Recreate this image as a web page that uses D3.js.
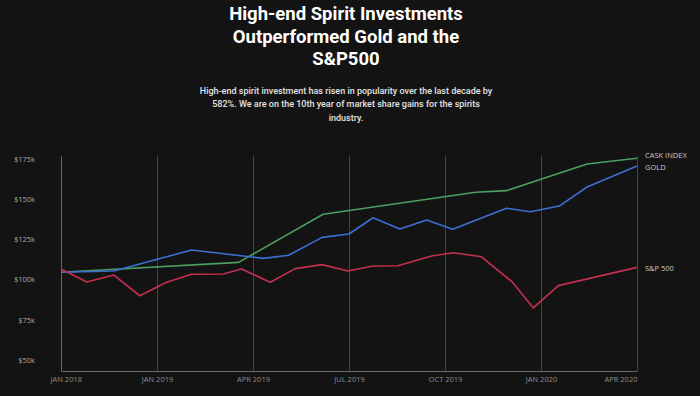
<!DOCTYPE html>
<html>
<head>
<meta charset="utf-8">
<script src="https://cdn.jsdelivr.net/npm/d3@7"></script>
<style>
	html, body { margin: 0; padding: 0; background: #131313; }
	svg { display: block; }
</style>
</head>
<body>
<svg width="700" height="396"></svg>
<script>
// tick positions are evenly spaced periods, not a true time axis
let tick_labels = ["JAN 2018", "JAN 2019", "APR 2019", "JUL 2019", "OCT 2019", "JAN 2020", "APR 2020"];
let y_ticks = [50000, 75000, 100000, 125000, 150000, 175000];

let title_lines = ["High-end Spirit Investments", "Outperformed Gold and the", "S&P500"];
let subtitle_lines = [
	"High-end spirit investment has risen in popularity over the last decade by",
	"582%. We are on the 10th year of market share gains for the spirits",
	"industry."
];

let series_names = ["CASK INDEX", "GOLD", "S&P 500"];
let series_colors = ["#4c9f5f", "#3d6fd3", "#c4304f"];

// [period, value]
let cask_index = [[0, 104500], [1.85, 110700], [2.73, 140700], [4.32, 154400], [4.64, 155400], [5.48, 172000], [6, 175600]];
let gold = [[0, 104500], [0.55, 105300], [1.36, 118400], [2.11, 113200], [2.37, 115100], [2.72, 126300], [3.0, 128400],
	[3.25, 138500], [3.53, 131500], [3.81, 137100], [4.08, 131400], [4.64, 144400], [4.89, 142300], [5.19, 145800],
	[5.48, 157700], [6, 170800]];
let sp500 = [[0, 106600], [0.27, 98500], [0.55, 102800], [0.82, 89900], [1.1, 98300], [1.36, 103300], [1.69, 103500],
	[1.88, 106600], [2.18, 98300], [2.44, 106800], [2.72, 109300], [2.99, 105300], [3.25, 108400], [3.51, 108600],
	[3.86, 114700], [4.09, 116700], [4.38, 114200], [4.7, 98500], [4.92, 82300], [5.18, 96200], [6, 107600]];

let all_series = [cask_index, gold, sp500];

var svg = d3.select("svg"),
	margin = {top: 156, right: 63, bottom: 25, left: 61},
	width = +svg.attr("width") - margin.left - margin.right,
	height = +svg.attr("height") - margin.top - margin.bottom;

svg.append("rect")
	.attr("width", 700)
	.attr("height", 396)
	.attr("fill", "#131313");

// title
svg.append("g").selectAll("text")
	.data(title_lines)
	.enter().append("text")
	.attr("x", 346)
	.attr("y", function(d, i) { return 20 + i * 22.5; })
	.attr("text-anchor", "middle")
	.style("font-family", "Roboto, sans-serif")
	.style("font-weight", "700")
	.style("font-size", "18.5px")
	.style("fill", "#ffffff")
	.text(function(d) { return d; });

svg.append("g").selectAll("text")
	.data(subtitle_lines)
	.enter().append("text")
	.attr("x", 346)
	.attr("y", function(d, i) { return 94 + i * 13.3; })
	.attr("text-anchor", "middle")
	.style("font-family", "Roboto, sans-serif")
	.style("font-weight", "500")
	.style("font-size", "9px")
	.style("fill", "#e4e4e4")
	.text(function(d) { return d; });

var x = d3.scaleLinear()
	.domain([0, tick_labels.length - 1])
	.range([0, width]);

var y = d3.scaleLinear()
	.domain([43000, 177000])
	.range([height, 0]);

var focus = svg.append("g")
	.attr("transform", "translate(" + margin.left + "," + margin.top + ")");

// vertical grid lines
focus.append("g")
	.selectAll("line")
	.data(d3.range(1, tick_labels.length))
	.enter().append("line")
	.attr("x1", function(d) { return x(d) + 0.5; })
	.attr("x2", function(d) { return x(d) + 0.5; })
	.attr("y1", 0)
	.attr("y2", height)
	.style("stroke", "#454545")
	.style("stroke-width", 1);

var xAxis = d3.axisBottom(x)
	.tickValues(d3.range(tick_labels.length))
	.tickFormat(function(d) { return tick_labels[d]; })
	.tickSize(0)
	.tickPadding(6);

var gx = focus.append("g")
	.attr("transform", "translate(0," + height + ")")
	.call(xAxis);
gx.select(".domain").attr("stroke", "#6a6a6a");
gx.selectAll("text")
	.style("font-family", "'Open Sans', sans-serif")
	.style("font-size", "7.5px")
	.style("fill", "#8f8f8f")
	.attr("text-anchor", function(d) {
		if (d == 0) return "start";
		if (d == tick_labels.length - 1) return "end";
		return "middle";
	})
	.attr("dx", function(d) { return d == 0 ? -11 : 0; });

var yAxis = d3.axisLeft(y)
	.tickValues(y_ticks)
	.tickFormat(function(d) { return "$" + (d / 1000) + "k"; })
	.tickSize(0)
	.tickPadding(26);

var gy = focus.append("g").call(yAxis);
gy.select(".domain").attr("stroke", "#6a6a6a");
gy.selectAll("text")
	.style("font-family", "'Open Sans', sans-serif")
	.style("font-size", "7.5px")
	.style("fill", "#a8a8a8");

var line = d3.line()
	.x(function(d) { return x(d[0]); })
	.y(function(d) { return y(d[1]); });

focus.selectAll(".series")
	.data(all_series)
	.enter().append("path")
	.attr("class", "series")
	.attr("fill", "none")
	.attr("stroke", function(d, i) { return series_colors[i]; })
	.attr("stroke-width", 1.6)
	.attr("stroke-linejoin", "round")
	.attr("d", line);

// end labels
let label_nudge = [-3, 1, 1];
focus.selectAll(".end-label")
	.data(all_series)
	.enter().append("text")
	.attr("class", "end-label")
	.attr("x", width + 8)
	.attr("y", function(d, i) { return y(d[d.length - 1][1]) + label_nudge[i]; })
	.attr("dy", "0.35em")
	.style("font-family", "'Open Sans', sans-serif")
	.style("font-size", "7.5px")
	.style("fill", "#c8c8c8")
	.text(function(d, i) { return series_names[i]; });
</script>
</body>
</html>
